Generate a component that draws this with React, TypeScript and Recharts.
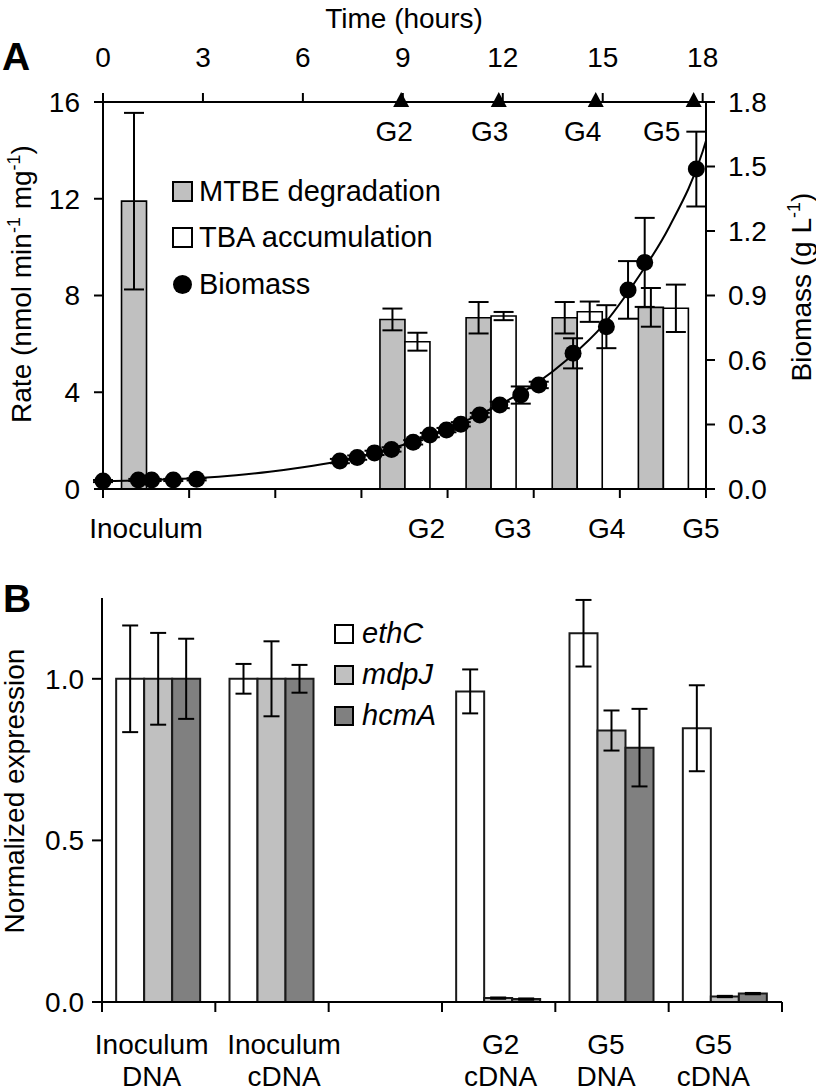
import React from 'react';
import {
  ComposedChart, BarChart, Bar, Line, Scatter, XAxis, YAxis, ErrorBar, Legend, Label,
} from 'recharts';

const FONT = '"Liberation Sans", Arial, Helvetica, sans-serif';
const FS = 28;

// ---- Panel A: specific rates per growth stage (bars) ----
const stageNames = ['Inoculum', 'gap1', 'gap2', 'G2', 'G3', 'G4', 'G5'];
const mtbeRate = [11.9, null, null, 7.01, 7.08, 7.08, 7.51];
const mtbeErr = [3.65, null, null, 0.45, 0.65, 0.65, 0.8];
const tbaRate = [null, null, null, 6.09, 7.15, 7.33, 7.47];
const tbaErr = [null, null, null, 0.37, 0.17, 0.42, 0.98];

// ---- Panel A: biomass over time ----
const bioHours = [0, 1.06, 1.46, 2.11, 2.81, 7.11, 7.63, 8.15, 8.66, 9.31, 9.81, 10.31, 10.74, 11.31, 11.91, 12.54, 13.08, 14.11, 15.11, 15.76, 16.26, 17.81];
const bioValues = [0.037, 0.042, 0.042, 0.042, 0.045, 0.13, 0.146, 0.168, 0.184, 0.217, 0.251, 0.274, 0.301, 0.344, 0.391, 0.437, 0.484, 0.631, 0.755, 0.926, 1.054, 1.488];
const bioErr = [0.005, 0.005, 0.005, 0.005, 0.005, 0.01, 0.01, 0.01, 0.01, 0.01, 0.01, 0.01, 0.01, 0.01, 0.015, 0.04, 0.015, 0.07, 0.1, 0.134, 0.207, 0.174];

// growth curve as drawn in the figure
const fitHours = [0, 1, 2, 3, 4, 5, 6, 7, 8, 9, 10, 11, 12, 13, 14, 15, 16, 17, 18, 18.1];
const fitValues = [0.036, 0.04, 0.045, 0.052, 0.064, 0.08, 0.101, 0.127, 0.162, 0.205, 0.26, 0.325, 0.4, 0.49, 0.61, 0.76, 0.97, 1.22, 1.57, 1.62];

// harvest markers on the time axis
const harvestHours = [8.95, 11.88, 14.79, 17.73];
const harvestNames = ['G2', 'G3', 'G4', 'G5'];

const hourTicks = [0, 3, 6, 9, 12, 15, 18];
const rateTicks = [0, 4, 8, 12, 16];
const bioTicks = [0, 0.3, 0.6, 0.9, 1.2, 1.5, 1.8];

// ---- Panel B: normalized expression ----
const sampleNames = ['Inoculum DNA', 'Inoculum cDNA', 'gap', 'G2 cDNA', 'G5 DNA', 'G5 cDNA'];
const ethC = [1.0, 1.0, null, 0.961, 1.141, 0.847];
const ethCErr = [0.165, 0.046, null, 0.068, 0.103, 0.133];
const mdpJ = [1.0, 1.0, null, 0.012, 0.84, 0.017];
const mdpJErr = [0.142, 0.116, null, 0.002, 0.062, 0.002];
const hcmA = [1.0, 1.0, null, 0.009, 0.787, 0.026];
const hcmAErr = [0.124, 0.043, null, 0.002, 0.12, 0.002];
const exprTicks = [0, 0.5, 1];

const rateData = stageNames.map((name, i) => ({
  name, mtbe: mtbeRate[i], mtbeErr: mtbeErr[i], tba: tbaRate[i], tbaErr: tbaErr[i],
}));
const bioData = bioHours.map((t, i) => ({ t, b: bioValues[i], err: bioErr[i] }));
const fitData = fitHours.map((t, i) => ({ t, fit: fitValues[i] }));
const harvestData = harvestHours.map((t, i) => ({ t, b: 1.8, name: harvestNames[i] }));
const exprData = sampleNames.map((name, i) => ({
  name,
  ethC: ethC[i], ethCErr: ethCErr[i],
  mdpJ: mdpJ[i], mdpJErr: mdpJErr[i],
  hcmA: hcmA[i], hcmAErr: hcmAErr[i],
}));

const AX = { stroke: '#000', strokeWidth: 2 };
const TICK = { fontSize: FS, fill: '#000', fontFamily: FONT };

const A_PLOT_W = 603;
const B_PLOT_W = 680;

const stageShift: Record<string, number> = { Inoculum: 0, G2: 22, G3: 22, G4: 30, G5: 38 };
const sampleShift: Record<string, number> = {
  'Inoculum DNA': -7, 'Inoculum cDNA': 12, 'G2 cDNA': 2, 'G5 DNA': -6, 'G5 cDNA': -12,
};
const harvestShift: Record<string, number> = { G2: -7, G3: -9, G4: -13, G5: -32 };

// category ticks sit on the boundaries between groups, not at their centres
const BoundaryTick = (props: any) => {
  const { x, y, payload, index, count, plotW, size, margin, shift, multiline, lineGap } = props;
  const half = plotW / count / 2;
  const axisY = y - size - margin;
  const value: string = payload.value;
  const label = value.startsWith('gap') ? '' : value;
  const lines = multiline ? label.split(' ') : [label];
  const lx = x + (shift[label] ?? 0);
  return (
    <g>
      <line x1={x - half} x2={x - half} y1={axisY} y2={axisY + size} stroke="#000" strokeWidth={2} />
      {index === count - 1 && (
        <line x1={x + half} x2={x + half} y1={axisY} y2={axisY + size} stroke="#000" strokeWidth={2} />
      )}
      {label && (
        <text x={lx} y={y} textAnchor="middle" fontSize={FS} fontFamily={FONT} fill="#000">
          {lines.map((ln, i) => (
            <tspan key={i} x={lx} dy={i === 0 ? '0.71em' : lineGap}>{ln}</tspan>
          ))}
        </text>
      )}
    </g>
  );
};

const BioDot = (p: any) => <circle cx={p.cx} cy={p.cy} r={8.5} fill="#000" />;

const HarvestMark = (p: any) => {
  const { cx, cy, payload } = p;
  return (
    <g>
      <polygon points={`${cx},${cy - 10} ${cx - 8},${cy + 5} ${cx + 8},${cy + 5}`} fill="#000" />
      <text x={cx + (harvestShift[payload.name] ?? 0)} y={cy + 39} textAnchor="middle"
        fontSize={FS} fontFamily={FONT} fill="#000">{payload.name}</text>
    </g>
  );
};

const LegendRows = (props: any) => {
  const { payload, order, rowH, italic, box, gap } = props;
  const items = (payload || [])
    .filter((e: any) => order.includes(e.value))
    .sort((a: any, b: any) => order.indexOf(a.value) - order.indexOf(b.value));
  return (
    <div style={{ fontFamily: FONT, fontSize: 29, color: '#000', fontStyle: italic ? 'italic' : 'normal' }}>
      {items.map((e: any) => (
        <div key={e.value} style={{ display: 'flex', alignItems: 'center', height: rowH, whiteSpace: 'nowrap' }}>
          <svg width={box + 4} height={box + 4} style={{ marginRight: gap }}>
            {e.type === 'circle'
              ? <circle cx={(box + 4) / 2} cy={(box + 4) / 2} r={box / 2} fill="#000" />
              : <rect x={2} y={2} width={box} height={box} fill={e.color} stroke="#000" strokeWidth={2} />}
          </svg>
          <span>{e.value}</span>
        </div>
      ))}
    </div>
  );
};

const supStyle = { fontSize: 18 };

export default function App() {
  return (
    <div style={{ position: 'absolute', left: 0, top: 0, width: 816, height: 1092, background: '#fff', fontFamily: FONT }}>
      <div style={{ position: 'absolute', left: 0, top: 0 }}>
        <ComposedChart
          width={816}
          height={560}
          data={rateData}
          margin={{ top: 62, right: 50, bottom: 21, left: 43 }}
          barCategoryGap="21.5%"
          barGap={0}
        >
          <XAxis
            xAxisId="stage"
            dataKey="name"
            type="category"
            orientation="bottom"
            height={50}
            interval={0}
            tickLine={false}
            tickSize={9}
            tickMargin={20}
            axisLine={AX}
            tick={<BoundaryTick count={stageNames.length} plotW={A_PLOT_W} size={9} margin={20} shift={stageShift} />}
          />
          <XAxis
            xAxisId="time"
            dataKey="t"
            type="number"
            orientation="top"
            domain={[0, 18.1]}
            ticks={hourTicks}
            height={40}
            tickSize={9}
            tickMargin={26}
            axisLine={AX}
            tickLine={AX}
            tick={TICK}
          >
            <Label
              content={() => (
                <g>
                  <text x={404} y={28} textAnchor="middle" fontSize={FS} fontFamily={FONT} fill="#000">Time (hours)</text>
                  <text x={2} y={70} fontSize={39} fontWeight="bold" fontFamily={FONT} fill="#000">A</text>
                </g>
              )}
            />
          </XAxis>
          <YAxis
            yAxisId="rate"
            domain={[0, 16]}
            ticks={rateTicks}
            width={60}
            tickSize={9}
            tickMargin={14}
            axisLine={AX}
            tickLine={AX}
            tick={TICK}
          >
            <Label
              content={() => (
                <text x={31} y={284} transform="rotate(-90 31 284)" textAnchor="middle" fontSize={FS} fontFamily={FONT} fill="#000">
                  <tspan>Rate (nmol min</tspan>
                  <tspan dy={-11} style={supStyle}>-1</tspan>
                  <tspan dy={11}> mg</tspan>
                  <tspan dy={-11} style={supStyle}>-1</tspan>
                  <tspan dy={11}>)</tspan>
                </text>
              )}
            />
          </YAxis>
          <YAxis
            yAxisId="bio"
            dataKey="b"
            orientation="right"
            domain={[0, 1.8]}
            ticks={bioTicks}
            tickFormatter={(v: number) => v.toFixed(1)}
            width={60}
            tickSize={9}
            tickMargin={13}
            axisLine={AX}
            tickLine={AX}
            tick={TICK}
          >
            <Label
              content={() => (
                <text x={811} y={287} transform="rotate(-90 811 287)" textAnchor="middle" fontSize={FS} fontFamily={FONT} fill="#000">
                  <tspan>Biomass (g L</tspan>
                  <tspan dy={-11} style={supStyle}>-1</tspan>
                  <tspan dy={11}>)</tspan>
                </text>
              )}
            />
          </YAxis>
          <Bar xAxisId="stage" yAxisId="rate" dataKey="mtbe" name="MTBE degradation" fill="#c0c0c0"
            stroke="#000" strokeWidth={1.6} legendType="square" isAnimationActive={false}>
            <ErrorBar dataKey="mtbeErr" width={10} stroke="#000" strokeWidth={2} isAnimationActive={false} />
          </Bar>
          <Bar xAxisId="stage" yAxisId="rate" dataKey="tba" name="TBA accumulation" fill="#ffffff"
            stroke="#000" strokeWidth={1.6} legendType="square" isAnimationActive={false}>
            <ErrorBar dataKey="tbaErr" width={10} stroke="#000" strokeWidth={2} isAnimationActive={false} />
          </Bar>
          <Line xAxisId="time" yAxisId="bio" data={fitData} dataKey="fit" type="monotone" stroke="#000"
            strokeWidth={2} dot={false} activeDot={false} legendType="none" isAnimationActive={false} />
          <Scatter xAxisId="time" yAxisId="bio" data={bioData} name="Biomass" fill="#000" shape={BioDot}
            legendType="circle" isAnimationActive={false}>
            <ErrorBar dataKey="err" direction="y" width={10} stroke="#000" strokeWidth={2} isAnimationActive={false} />
          </Scatter>
          <Scatter xAxisId="time" yAxisId="bio" data={harvestData} name="harvest" fill="#000"
            shape={HarvestMark} legendType="none" isAnimationActive={false} />
          <Legend
            layout="vertical"
            verticalAlign="middle"
            align="center"
            wrapperStyle={{ left: 171, top: 168, width: 'auto' }}
            content={(p: any) => (
              <LegendRows {...p} order={['MTBE degradation', 'TBA accumulation', 'Biomass']} rowH={46.5} box={19} gap={5} />
            )}
          />
        </ComposedChart>
      </div>

      <div style={{ position: 'absolute', left: 0, top: 560 }}>
        <BarChart
          width={816}
          height={532}
          data={exprData}
          margin={{ top: 38, right: 34, bottom: 10, left: 42 }}
          barCategoryGap="12.5%"
          barGap={0}
        >
          <XAxis
            dataKey="name"
            height={80}
            interval={0}
            tickLine={false}
            tickSize={10}
            tickMargin={22}
            axisLine={AX}
            tick={<BoundaryTick count={sampleNames.length} plotW={B_PLOT_W} size={10} margin={22} shift={sampleShift} multiline lineGap={32} />}
          />
          <YAxis
            domain={[0, 1.25]}
            ticks={exprTicks}
            tickFormatter={(v: number) => v.toFixed(1)}
            width={60}
            tickSize={10}
            tickMargin={8}
            axisLine={AX}
            tickLine={AX}
            tick={TICK}
          >
            <Label
              content={() => (
                <g>
                  <text x={3} y={52} fontSize={39} fontWeight="bold" fontFamily={FONT} fill="#000">B</text>
                  <text x={24} y={231} transform="rotate(-90 24 231)" textAnchor="middle" fontSize={FS} fontFamily={FONT} fill="#000">
                    Normalized expression
                  </text>
                </g>
              )}
            />
          </YAxis>
          <Bar dataKey="ethC" name="ethC" fill="#ffffff" stroke="#1a1a1a" strokeWidth={2} legendType="square" isAnimationActive={false}>
            <ErrorBar dataKey="ethCErr" width={8} stroke="#000" strokeWidth={2} isAnimationActive={false} />
          </Bar>
          <Bar dataKey="mdpJ" name="mdpJ" fill="#c0c0c0" stroke="#1a1a1a" strokeWidth={2} legendType="square" isAnimationActive={false}>
            <ErrorBar dataKey="mdpJErr" width={8} stroke="#000" strokeWidth={2} isAnimationActive={false} />
          </Bar>
          <Bar dataKey="hcmA" name="hcmA" fill="#808080" stroke="#1a1a1a" strokeWidth={2} legendType="square" isAnimationActive={false}>
            <ErrorBar dataKey="hcmAErr" width={8} stroke="#000" strokeWidth={2} isAnimationActive={false} />
          </Bar>
          <Legend
            layout="vertical"
            verticalAlign="middle"
            align="center"
            wrapperStyle={{ left: 333, top: 53, width: 'auto' }}
            content={(p: any) => (
              <LegendRows {...p} order={['ethC', 'mdpJ', 'hcmA']} rowH={41} box={18} gap={7} italic />
            )}
          />
        </BarChart>
      </div>
    </div>
  );
}
